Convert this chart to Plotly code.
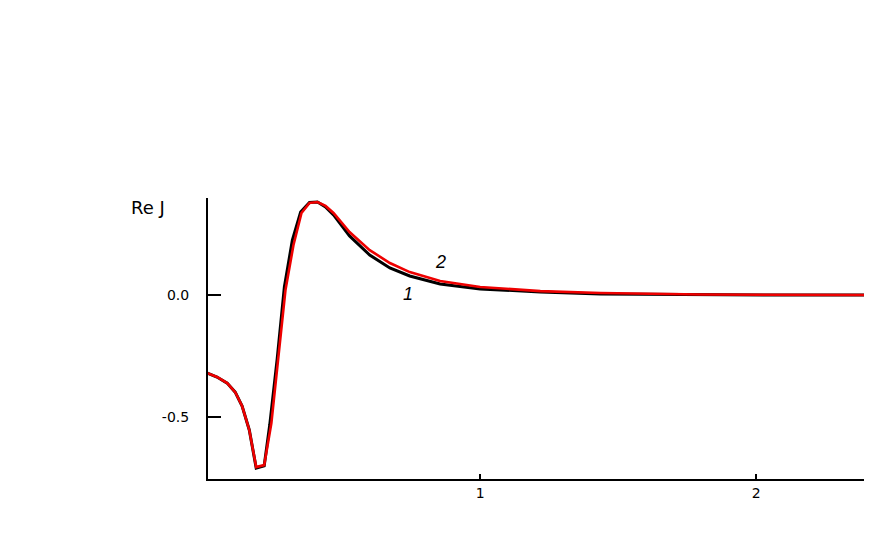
import plotly.graph_objects as go

# curve 2 (red) and curve 1 (black)
x2 = [0.011, 0.047, 0.084, 0.113, 0.138, 0.164, 0.189, 0.218, 0.244, 0.269, 0.295,
      0.324, 0.353, 0.382, 0.411, 0.440, 0.469, 0.527, 0.600, 0.673, 0.745, 0.855,
      1.0, 1.218, 1.436, 1.8, 2.1, 2.425]
y2 = [-0.320, -0.336, -0.361, -0.398, -0.455, -0.553, -0.705, -0.697, -0.525, -0.246, 0.020,
      0.205, 0.336, 0.377, 0.381, 0.365, 0.336, 0.258, 0.184, 0.131, 0.094, 0.057,
      0.033, 0.016, 0.008, 0.002, 0.001, 0.0]

x1 = [0.011, 0.047, 0.084, 0.113, 0.138, 0.164, 0.189, 0.218, 0.238, 0.265, 0.291,
      0.320, 0.350, 0.382, 0.411, 0.440, 0.469, 0.527, 0.600, 0.673, 0.745, 0.855,
      1.0, 1.218, 1.436, 1.8, 2.1, 2.425]
y1 = [-0.320, -0.336, -0.361, -0.398, -0.455, -0.553, -0.709, -0.700, -0.533, -0.262, 0.033,
      0.225, 0.340, 0.379, 0.381, 0.361, 0.328, 0.242, 0.164, 0.111, 0.078, 0.045,
      0.025, 0.012, 0.004, 0.001, 0.0, 0.0]

fig = go.Figure()
fig.add_trace(go.Scatter(x=x1, y=y1, mode="lines", line=dict(color="black", width=3)))
fig.add_trace(go.Scatter(x=x2, y=y2, mode="lines", line=dict(color="#ee0000", width=2.6)))

font = "DejaVu Sans, Arial, sans-serif"
# page body adds an 8px margin, so the figure is drawn smaller / shifted
fig.update_layout(
    width=856, height=529,
    margin=dict(l=200, r=0, t=190, b=58),
    plot_bgcolor="white", paper_bgcolor="white",
    showlegend=False,
    font=dict(family=font, size=14, color="black"),
    xaxis=dict(range=[0.0145, 2.39], tickvals=[1, 2], ticktext=["1", "2"],
               ticks="inside", ticklen=5, tickwidth=2, tickcolor="black",
               showline=True, linecolor="black", linewidth=2,
               showgrid=False, zeroline=False),
    yaxis=dict(range=[-0.754, 0.3975], tickvals=[0.0, -0.5], ticktext=["0.0", "-0.5"],
               ticks="inside", ticklen=13, tickwidth=1.5, tickcolor="black",
               showline=True, linecolor="black", linewidth=2,
               showgrid=False, zeroline=False, ticklabelstandoff=14),
)
fig.add_annotation(x=-0.12, y=0.36, xref="paper", yref="y", text="Re J",
                   showarrow=False, xanchor="left", yanchor="middle",
                   font=dict(family=font, size=18))
fig.add_annotation(x=0.74, y=0.005, text="<i>1</i>", showarrow=False,
                   font=dict(family="Liberation Sans, Arial", size=18))
fig.add_annotation(x=0.855, y=0.135, text="<i>2</i>", showarrow=False,
                   font=dict(family="Liberation Sans, Arial", size=18))

fig.write_html("out.html")
